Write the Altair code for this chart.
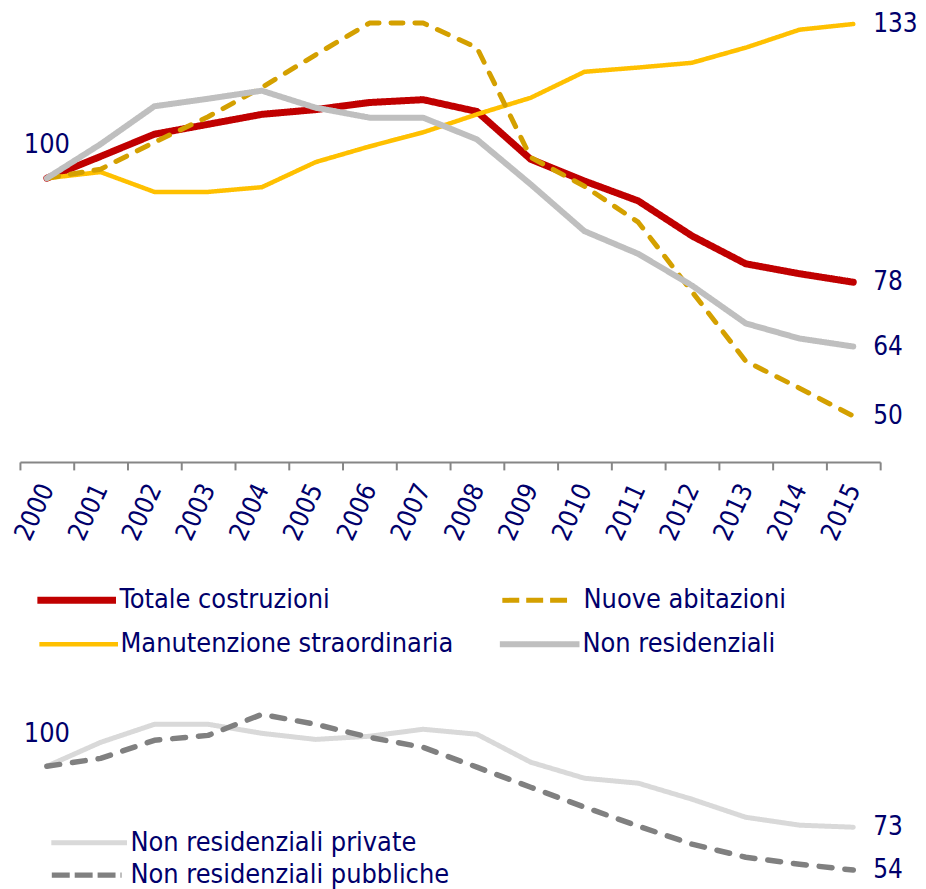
import altair as alt
import pandas as pd

FONT = "DejaVu Sans Condensed"
NAVY = "#00006b"
AXIS_GRAY = "#868686"

years = ["2000", "2001", "2002", "2003", "2004", "2005", "2006", "2007",
         "2008", "2009", "2010", "2011", "2012", "2013", "2014", "2015"]

# --- top panel series (index 2000 = 100)
totale = [100, 104.6, 109.3, 111.4, 113.5, 114.5, 116.0, 116.6,
          114.1, 104.0, 99.4, 95.2, 87.8, 81.9, 79.8, 78.0]
nuove = [100, 101.9, 107.6, 113.0, 119.2, 126.1, 132.8, 132.8,
         127.6, 104.4, 98.3, 90.7, 76.0, 61.3, 55.6, 49.7]
manutenzione = [100, 101.3, 97.1, 97.1, 98.1, 103.4, 106.7, 109.7,
                113.5, 117.0, 122.5, 123.4, 124.4, 127.6, 131.4, 132.6]
non_residenziali = [100, 107.2, 115.2, 116.8, 118.5, 114.9, 112.8, 112.8,
                    108.2, 98.7, 88.8, 84.0, 77.3, 69.3, 66.1, 64.4]
end_labels_top = ["78", "50", "133", "64"]

# --- bottom panel series
private = [100, 110.6, 118.6, 118.6, 114.6, 111.9, 113.3, 116.4,
           114.2, 101.8, 94.7, 92.5, 85.4, 77.4, 73.9, 73.0]
pubbliche = [100, 103.5, 111.5, 113.7, 123.0, 118.6, 112.8, 108.4,
             99.6, 90.7, 81.9, 73.5, 65.5, 59.7, 56.6, 54.0]
end_labels_bot = ["73", "54"]

# series styling (drawn bottom -> top in this order)
# name, values, colour, line width, dash, legend (x, y, symbol length, label offset, symbol dash)
top_series = [
    ("Totale costruzioni", totale, "#c00000", 7, [1, 0], (14, 552, 79, 0, [1, 0])),
    ("Manutenzione straordinaria", manutenzione, "#ffc000", 4.5, [1, 0], (17, 597, 79, 0, [1, 0])),
    ("Nuove abitazioni", nuove, "#d4a000", 5, [12, 12], (482, 557, 71, 8, [17, 7])),
    ("Non residenziali", non_residenziali, "#bfbfbf", 6, [1, 0], (479, 596, 80, 0, [1, 0])),
]
bot_series = [
    ("Non residenziali private", private, "#d9d9d9", 5, [1, 0], (29, 93, 76, 1, [1, 0])),
    ("Non residenziali pubbliche", pubbliche, "#808080", 5.5, [13, 13], (29, 128, 70, 6, [18, 5])),
]

xscale = alt.Scale(type="band", domain=years, paddingInner=0, paddingOuter=0)
x_axis = alt.Axis(
    title=None, labelAngle=-65, labelAlign="right", labelBaseline="middle",
    labelFont=FONT, labelFontSize=26, labelColor=NAVY, labelPadding=15,
    tickBand="extent", tickSize=8, tickColor=AXIS_GRAY, tickWidth=2,
    domainColor=AXIS_GRAY, domainWidth=2, grid=False, labelOverlap=False,
)


def series_layer(spec, yscale, axis):
    name, vals, color, width, dash, (lx, ly, symlen, off, sdash) = spec
    df = pd.DataFrame({"year": years, "value": vals, "series": name})
    leg = alt.Legend(
        title=None, orient="none", legendX=lx, legendY=ly,
        symbolType="stroke", symbolSize=symlen * symlen, symbolStrokeWidth=width,
        symbolDash=sdash, labelFont=FONT, labelFontSize=27, labelColor=NAVY,
        labelLimit=600, labelOffset=off, padding=0,
    )
    return alt.Chart(df).mark_line(
        strokeWidth=width, strokeDash=dash, strokeCap="round", strokeJoin="round"
    ).encode(
        x=alt.X("year:O", scale=xscale, axis=axis, bandPosition=0.5),
        y=alt.Y("value:Q", scale=yscale, axis=None),
        color=alt.Color("series:N", scale=alt.Scale(domain=[name], range=[color]), legend=leg),
    )


def text_layer(df, yscale, **kw):
    return alt.Chart(df).mark_text(font=FONT, color=NAVY, baseline="middle", **kw).encode(
        x=alt.X("year:O", scale=xscale, bandPosition=0.5),
        y=alt.Y("value:Q", scale=yscale),
        text="label:N",
    )


ytop = alt.Scale(domain=[40, 136], nice=False, zero=False)
end_top = pd.DataFrame({
    "year": [years[-1]] * 4,
    "value": [totale[-1], nuove[-1], manutenzione[-1], non_residenziali[-1]],
    "label": end_labels_top,
})
start_top = pd.DataFrame({"year": [years[0]], "value": [totale[0]], "label": ["100"]})

top_layers = [series_layer(s, ytop, x_axis) for s in top_series]
top = alt.layer(
    *top_layers,
    text_layer(end_top, ytop, align="left", dx=20, fontSize=26),
    text_layer(start_top, ytop, align="center", dy=-33, fontSize=27),
).resolve_scale(color="independent").resolve_legend(color="independent").properties(
    width=864, height=456)

ybot = alt.Scale(domain=[50, 125], nice=False, zero=False)
end_bot = pd.DataFrame({"year": [years[-1]] * 2,
                        "value": [private[-1], pubbliche[-1]],
                        "label": end_labels_bot})
start_bot = pd.DataFrame({"year": [years[0]], "value": [private[0]], "label": ["100"]})

bot_layers = [series_layer(s, ybot, None) for s in bot_series]
bottom = alt.layer(
    *bot_layers,
    text_layer(end_bot, ybot, align="left", dx=20, fontSize=26),
    text_layer(start_bot, ybot, align="center", dy=-32, fontSize=27),
).resolve_scale(color="independent").resolve_legend(color="independent").properties(
    width=864, height=170)

chart = alt.vconcat(top, bottom, spacing=53).resolve_scale(
    color="independent", x="independent", y="independent",
).resolve_legend(color="independent").properties(
    padding={"left": 0, "top": -2, "right": 0, "bottom": 0}
).configure(background="white").configure_view(strokeWidth=0, stroke="transparent")

chart.save("out.html", embed_options={"renderer": "svg", "actions": False})
